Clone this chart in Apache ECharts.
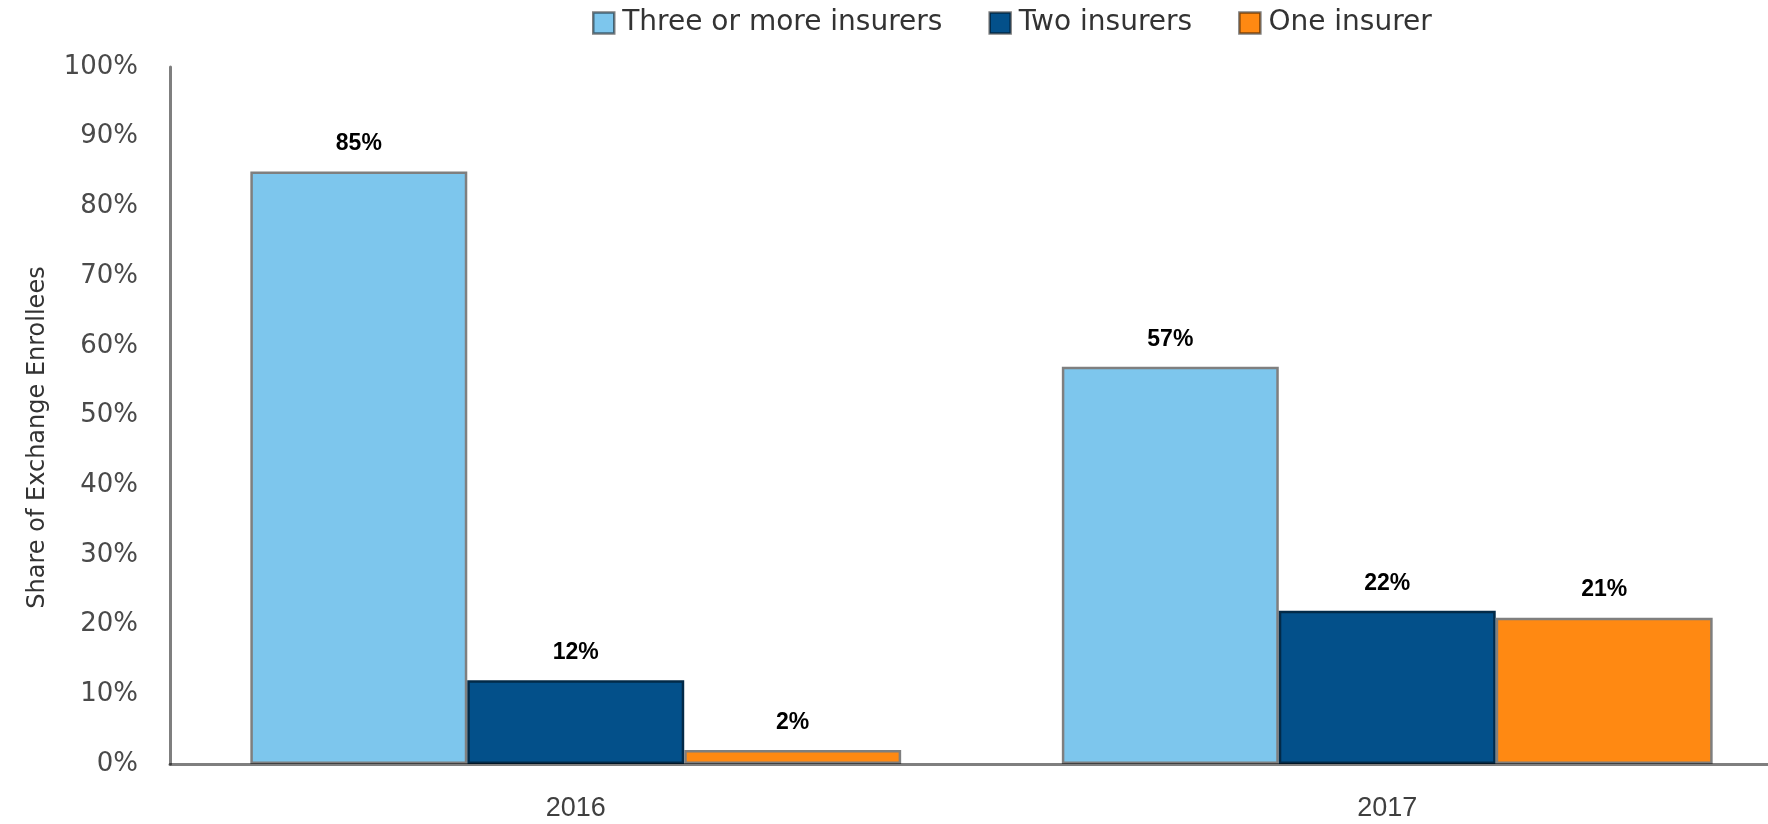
<!DOCTYPE html>
<html>
<head>
<meta charset="utf-8">
<script src="https://cdn.jsdelivr.net/npm/echarts@6/dist/echarts.min.js"></script>
<style>
  html, body { margin: 0; padding: 0; background: #fff; overflow: hidden; }
  /* the plot area runs slightly past the right edge of the window */
  #chart { width: 1793px; height: 824px; }
</style>
</head>
<body>
<div id="chart"></div>
<script>
// Exchange enrollees by number of participating insurers
const years = ['2016', '2017'];
const threeOrMore = [85, 57];
const twoInsurers = [12, 22];
const oneInsurer = [2, 21];
const seriesNames = ['Three or more insurers', 'Two insurers', 'One insurer'];
const yTicks = [0, 10, 20, 30, 40, 50, 60, 70, 80, 90, 100];

const FONT = 'DejaVu Sans';
const FONT_NARROW = 'Liberation Sans';
const fills = ['#7DC6ED', '#03508A', '#FF8912'];
const borders = ['#7f7f7f', '#022a48', '#7f7f7f'];

const chart = echarts.init(document.getElementById('chart'), null, { renderer: 'canvas' });

function barSeries(i, values) {
  return {
    name: seriesNames[i],
    type: 'bar',
    data: values,
    barGap: '0%',
    barCategoryGap: '19.8%',
    itemStyle: { color: fills[i], borderColor: borders[i], borderWidth: 2.5 },
    label: {
      show: true,
      position: 'top',
      distance: 16,
      formatter: '{c}%',
      color: '#000',
      fontFamily: FONT_NARROW,
      fontWeight: 'bold',
      fontSize: 23
    }
  };
}

chart.setOption({
  animation: false,
  backgroundColor: '#fff',
  legend: {
    top: 4,
    left: 587,
    itemWidth: 21,
    itemHeight: 21,
    itemGap: 46,
    icon: 'rect',
    textStyle: { fontFamily: FONT, fontSize: 28, lineHeight: 28, color: '#333', padding: [0, 0, 0, 3] },
    data: seriesNames.map((n, i) => ({
      name: n,
      itemStyle: { color: fills[i], borderColor: 'rgba(0,0,0,0.5)', borderWidth: 2.5 }
    }))
  },
  grid: { left: 170, right: 0, top: 67, bottom: 60, containLabel: false },
  xAxis: {
    type: 'category',
    data: years,
    z: 5,
    axisLine: { lineStyle: { color: 'rgba(0,0,0,0.5)', width: 3 } },
    axisTick: { show: false },
    axisLabel: { margin: 31, fontFamily: FONT_NARROW, fontSize: 27, color: '#3f3f3f' },
    splitLine: { show: false }
  },
  yAxis: {
    type: 'value',
    min: yTicks[0],
    max: yTicks[yTicks.length - 1],
    interval: yTicks[1] - yTicks[0],
    name: 'Share of Exchange Enrollees',
    nameLocation: 'middle',
    nameGap: 120,
    nameTextStyle: { fontFamily: FONT, fontSize: 24, color: '#333', padding: [0, 44, 0, 0] },
    axisLine: { show: true, lineStyle: { color: 'rgba(0,0,0,0.5)', width: 3 } },
    axisTick: { show: false },
    splitLine: { show: false },
    axisLabel: { margin: 32, fontFamily: FONT, fontSize: 26, color: '#4a4a4a', formatter: '{value}%' }
  },
  series: [
    barSeries(0, threeOrMore),
    barSeries(1, twoInsurers),
    barSeries(2, oneInsurer)
  ]
});
</script>
</body>
</html>
